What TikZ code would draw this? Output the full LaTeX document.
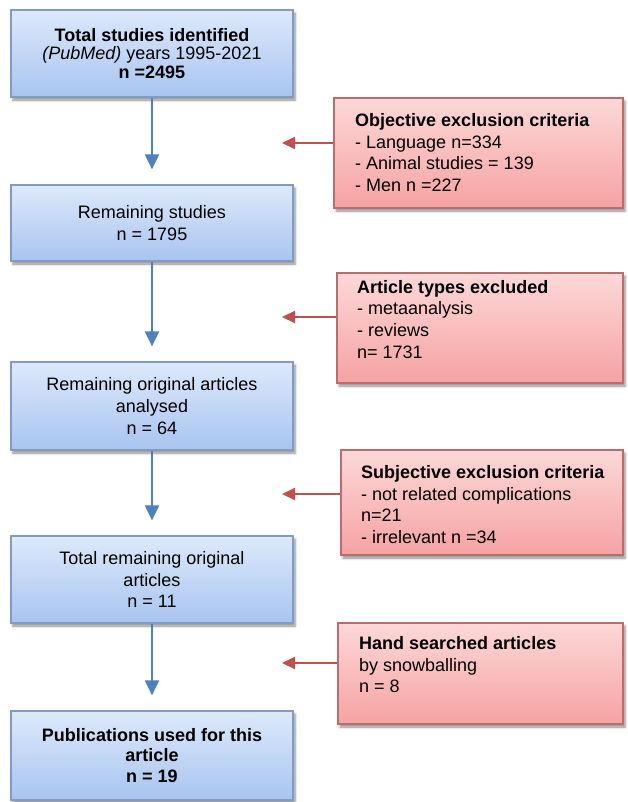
\documentclass[tikz,border=0pt]{standalone}
\usepackage{fontspec}
\setmainfont{Liberation Sans}
\usetikzlibrary{arrows.meta,shadows.blur,calc}
\definecolor{btop}{HTML}{DDE9FB}
\definecolor{bbot}{HTML}{A8C4EF}
\definecolor{bborder}{HTML}{7F9CC4}
\definecolor{rtop}{HTML}{FCD8D8}
\definecolor{rbot}{HTML}{F6A2A2}
\definecolor{rborder}{HTML}{BC6C6C}
\definecolor{barrow}{HTML}{4F81BD}
\definecolor{rarrow}{HTML}{C0504D}
\tikzset{
  boxshadow/.style={blur shadow={shadow xshift=2bp,shadow yshift=-3bp,shadow blur radius=2.5bp,shadow blur steps=6,shadow opacity=45}},
  bluebox/.style={draw=bborder,line width=1.2bp,top color=btop,bottom color=bbot,
    minimum width=282bp,align=center,inner sep=0pt,boxshadow},
  redbox/.style={draw=rborder,line width=1.2bp,top color=rtop,bottom color=rbot,
    inner sep=0pt,boxshadow},
  redtext/.style={anchor=north west,align=left,inner sep=0pt},
  blueflow/.style={draw=barrow,line width=2bp,shorten >=15bp,-{Triangle[width=14bp,length=15bp]}},
  redflow/.style={draw=rarrow,line width=2bp,-{Triangle[width=12bp,length=13bp]}},
}
\begin{document}
\begin{tikzpicture}[x=1bp,y=-1bp,font=\fontsize{18bp}{21.6bp}\selectfont]
\useasboundingbox (0,0) rectangle (628,802);
% blue boxes
\node[bluebox,minimum height=87bp] (b1) at (152,53.5)
  {\textbf{Total studies identified}\\[-3.5bp]\textit{(PubMed)} years 1995-2021\\[-3.5bp]\textbf{n =2495}};
\node[bluebox,minimum height=76bp] (b2) at (152,223)
  {Remaining studies\\n = 1795};
\node[bluebox,minimum height=88bp] (b3) at (152,406)
  {Remaining original articles\\analysed\\n = 64};
\node[bluebox,minimum height=87bp] (b4) at (152,579.5)
  {Total remaining original\\articles\\n = 11};
\node[bluebox,minimum height=89bp] (b5) at (152,755.5)
  {\textbf{Publications used for this}\\[-1bp]\textbf{article}\\[-1bp]\textbf{n = 19}};
% red boxes
\node[redbox,minimum width=289bp,minimum height=110bp] (r1) at (478.5,153) {};
\node[redbox,minimum width=286bp,minimum height=110bp] (r2) at (480,328) {};
\node[redbox,minimum width=282bp,minimum height=105bp] (r3) at (482,502.5) {};
\node[redbox,minimum width=285bp,minimum height=101bp] (r4) at (480.5,673.5) {};
\node[redtext] (r1t) at (355,113.5)
  {\textbf{Objective exclusion criteria}\\- Language n=334\\- Animal studies = 139\\- Men n =227};
\node[redtext] (r2t) at (357,280)
  {\textbf{Article types excluded}\\- metaanalysis\\- reviews\\n= 1731};
\node[redtext] (r3t) at (361,465.5)
  {\textbf{Subjective exclusion criteria}\\- not related complications\\n=21\\- irrelevant n =34};
\node[redtext] (r4t) at (359,636.5)
  {\textbf{Hand searched articles}\\by snowballing\\n = 8};
% blue connectors
\draw[blueflow] (b1.south) -- (b2.north);
\draw[blueflow] (b2.south) -- (b3.north);
\draw[blueflow] (b3.south) -- (b4.north);
\draw[blueflow] (b4.south) -- (b5.north);
% red connectors
\coordinate (t1) at (282,143);
\coordinate (t2) at (282,317);
\coordinate (t3) at (282,494);
\coordinate (t4) at (282,663);
\draw[redflow] (r1.west |- t1) -- (t1);
\draw[redflow] (r2.west |- t2) -- (t2);
\draw[redflow] (r3.west |- t3) -- (t3);
\draw[redflow] (r4.west |- t4) -- (t4);
\end{tikzpicture}
\end{document}
